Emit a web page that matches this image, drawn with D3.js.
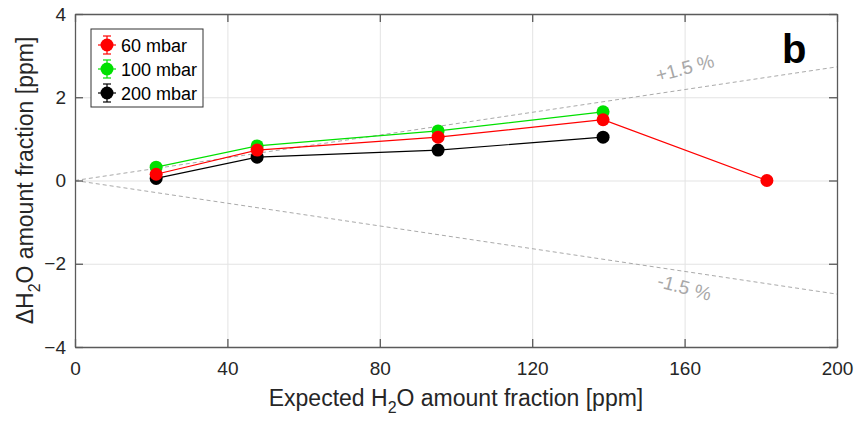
<!DOCTYPE html>
<html>
<head>
<meta charset="utf-8">
<script src="https://cdn.jsdelivr.net/npm/d3@7"></script>
<style>
  body { margin: 0; background: #fff; }
  svg { font-family: Arial, "Liberation Sans", sans-serif; }
</style>
</head>
<body>
<svg id="stage" width="858" height="423"></svg>
<script>
var svg = d3.select('#stage'),
    WIDTH = 858,
    HEIGHT = 423,
    margin = { top: 14, right: 21, bottom: 76, left: 75 },
    plotW = WIDTH - margin.left - margin.right,
    plotH = HEIGHT - margin.top - margin.bottom;

// data
var expected = [21.3, 47.8, 95.3, 138.6, 181.6];
var mbar60 = [0.15, 0.73, 1.04, 1.46, 0.0];
var mbar100 = [0.32, 0.83, 1.19, 1.65];
var mbar200 = [0.05, 0.56, 0.73, 1.04];
var seriesNames = ['60 mbar', '100 mbar', '200 mbar'];
var seriesColors = ['#ff0000', '#00e000', '#000000'];
var xTicks = [0, 40, 80, 120, 160, 200];
var yTicks = [-4, -2, 0, 2, 4];
var bandX = [0, 200];
var bandUpper = [0, 2.73];
var bandLower = [0, -2.73];

var x = d3.scaleLinear().domain([0, 200]).range([0, plotW]);
var y = d3.scaleLinear().domain([-4, 4]).range([plotH, 0]);

var g = svg.append('g')
  .attr('transform', 'translate(' + [margin.left, margin.top] + ')');

// grid
g.append('g')
  .attr('class', 'grid')
  .call(d3.axisBottom(x).tickValues(xTicks).tickSize(plotH).tickFormat(''))
  .call(function (s) {
    s.select('.domain').remove();
    s.selectAll('line').attr('stroke', '#e3e3e3');
  });
g.append('g')
  .attr('class', 'grid')
  .call(d3.axisLeft(y).tickValues(yTicks).tickSize(-plotW).tickFormat(''))
  .call(function (s) {
    s.select('.domain').remove();
    s.selectAll('line').attr('stroke', '#e3e3e3');
  });

// +/- 1.5 % lines
var line = d3.line()
  .x(function (d) { return x(d[0]); })
  .y(function (d) { return y(d[1]); });

[bandUpper, bandLower].forEach(function (band) {
  g.append('path')
    .datum(d3.zip(bandX, band))
    .attr('d', line)
    .attr('fill', 'none')
    .attr('stroke', '#aaaaaa')
    .attr('stroke-width', 1)
    .attr('stroke-dasharray', '4,3');
});

g.append('text')
  .attr('transform', 'translate(' + [x(160.5), y(2.55)] + ') rotate(-15)')
  .attr('text-anchor', 'middle')
  .attr('fill', '#a8a8a8')
  .attr('font-size', 19)
  .text('+1.5 %');
g.append('text')
  .attr('transform', 'translate(' + [x(159.5), y(-2.72)] + ') rotate(15)')
  .attr('text-anchor', 'middle')
  .attr('fill', '#a8a8a8')
  .attr('font-size', 19)
  .text('-1.5 %');

// axes box with inward ticks
function styleAxis(s) {
  s.select('.domain').attr('stroke', '#5a5a5a').attr('stroke-width', 1.3);
  s.selectAll('.tick line').attr('stroke', '#5a5a5a').attr('stroke-width', 1.3);
  s.selectAll('.tick text').attr('fill', '#262626').attr('font-size', 19);
}

g.append('g')
  .attr('transform', 'translate(0,' + plotH + ')')
  .call(d3.axisBottom(x).tickValues(xTicks).tickSize(-8).tickSizeOuter(0).tickPadding(15))
  .call(styleAxis);
g.append('g')
  .call(d3.axisTop(x).tickValues(xTicks).tickSize(-8).tickSizeOuter(0).tickFormat(''))
  .call(styleAxis);
g.append('g')
  .call(d3.axisLeft(y).tickValues(yTicks).tickSize(-8).tickSizeOuter(0).tickPadding(9))
  .call(styleAxis);
g.append('g')
  .attr('transform', 'translate(' + plotW + ',0)')
  .call(d3.axisRight(y).tickValues(yTicks).tickSize(-8).tickSizeOuter(0).tickFormat(''))
  .call(styleAxis);

// series
var series = [mbar60, mbar100, mbar200];
series.forEach(function (vals, k) {
  var pts = vals.map(function (v, i) { return [expected[i], v]; });
  g.append('path')
    .datum(pts)
    .attr('d', line)
    .attr('fill', 'none')
    .attr('stroke', seriesColors[k])
    .attr('stroke-width', 1.2);
});
// draw markers: black first, green, red on top
[2, 1, 0].forEach(function (k) {
  var pts = series[k].map(function (v, i) { return [expected[i], v]; });
  g.selectAll('circle.s' + k)
    .data(pts)
    .enter()
    .append('circle')
    .attr('class', 's' + k)
    .attr('cx', function (d) { return x(d[0]); })
    .attr('cy', function (d) { return y(d[1]); })
    .attr('r', 6.5)
    .attr('fill', seriesColors[k]);
});

// legend
var legend = g.append('g').attr('transform', 'translate(16,15)');
legend.append('rect')
  .attr('width', 112)
  .attr('height', 78)
  .attr('fill', '#fff')
  .attr('stroke', '#333')
  .attr('stroke-width', 1);
seriesNames.forEach(function (name, k) {
  var row = legend.append('g').attr('transform', 'translate(16,' + (16 + k * 24) + ')');
  row.append('line')
    .attr('x1', -9).attr('x2', 9)
    .attr('stroke', seriesColors[k]).attr('stroke-width', 1.2);
  row.append('line')
    .attr('y1', -9).attr('y2', 9)
    .attr('stroke', seriesColors[k]).attr('stroke-width', 1.2);
  [-9, 9].forEach(function (cy) {
    row.append('line')
      .attr('x1', -4).attr('x2', 4).attr('y1', cy).attr('y2', cy)
      .attr('stroke', seriesColors[k]).attr('stroke-width', 1.2);
  });
  row.append('circle')
    .attr('r', 6.5)
    .attr('fill', seriesColors[k]);
  row.append('text')
    .attr('x', 14)
    .attr('y', 6.5)
    .attr('font-size', 18)
    .attr('fill', '#000')
    .text(name);
});

// panel letter
g.append('text')
  .attr('x', x(188.8))
  .attr('y', 49)
  .attr('text-anchor', 'middle')
  .attr('font-size', 40)
  .attr('font-weight', 'bold')
  .text('b');

// axis titles
var xt = svg.append('text')
  .attr('x', margin.left + plotW / 2)
  .attr('y', 406)
  .attr('text-anchor', 'middle')
  .attr('font-size', 23)
  .attr('fill', '#262626');
xt.append('tspan').text('Expected H');
xt.append('tspan').attr('font-size', 16).attr('dy', 7).text('2');
xt.append('tspan').attr('dy', -7).text('O amount fraction [ppm]');

var yt = svg.append('text')
  .attr('transform', 'translate(33,' + (margin.top + plotH / 2) + ') rotate(-90)')
  .attr('text-anchor', 'middle')
  .attr('font-size', 23)
  .attr('fill', '#262626');
yt.append('tspan').text('\u0394H');
yt.append('tspan').attr('font-size', 16).attr('dy', 7).text('2');
yt.append('tspan').attr('dy', -7).text('O amount fraction [ppm]');
</script>
</body>
</html>
